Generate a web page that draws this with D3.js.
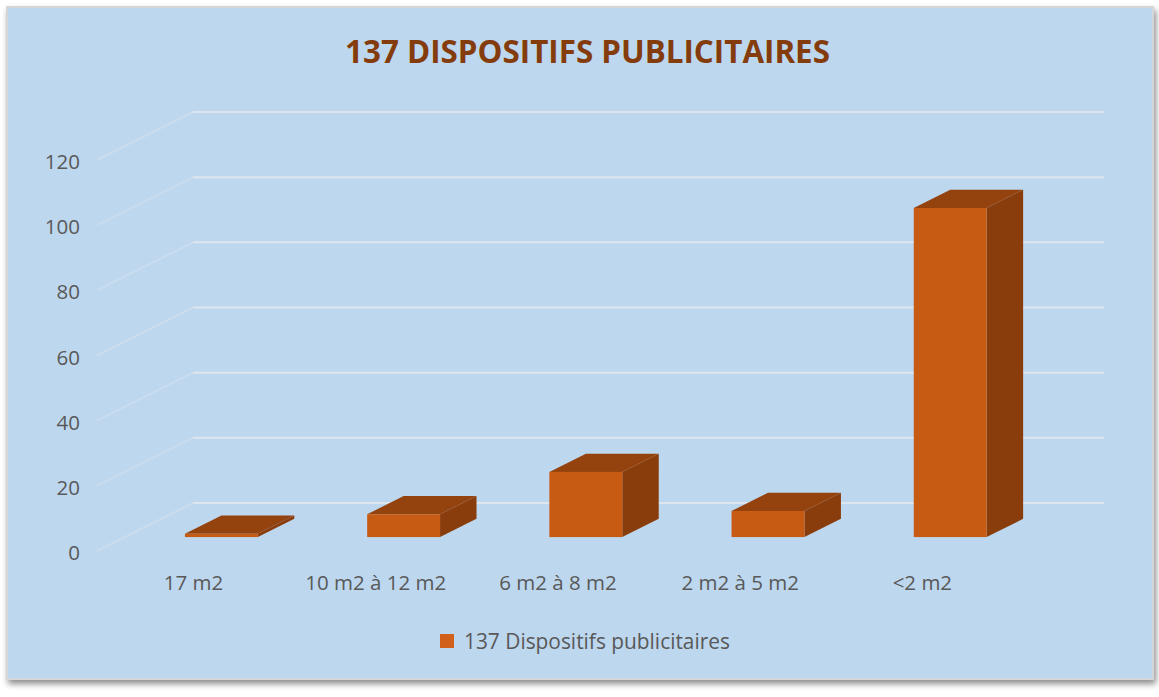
<!DOCTYPE html>
<html><head><meta charset="utf-8">
<script src="https://cdn.jsdelivr.net/npm/d3@7"></script>
<style>html,body{margin:0;padding:0;background:#fff;}svg{display:block;}</style>
</head><body>
<svg id="c" width="1159" height="697"></svg>
<script>
const categories = ["17 m2", "10 m2 à 12 m2", "6 m2 à 8 m2", "2 m2 à 5 m2", "<2 m2"];
const values = [1, 7, 20, 8, 101];
const yTicks = [0, 20, 40, 60, 80, 100, 120];
const titleText = "137 DISPOSITIFS PUBLICITAIRES";
const seriesName = "137 Dispositifs publicitaires";

const svg = d3.select("#c");
const defs = svg.append("defs");
const f = defs.append("filter").attr("id","sh").attr("x","-5%").attr("y","-5%").attr("width","110%").attr("height","112%");
f.append("feGaussianBlur").attr("in","SourceAlpha").attr("stdDeviation",3);
f.append("feOffset").attr("dx",2).attr("dy",4).attr("result","b");
f.append("feComponentTransfer").append("feFuncA").attr("type","linear").attr("slope",0.45);
const m = f.append("feMerge"); m.append("feMergeNode"); m.append("feMergeNode").attr("in","SourceGraphic");

// frame
svg.append("rect").attr("x",7).attr("y",7).attr("width",1146).attr("height",672)
  .attr("fill","#BDD7EE").attr("stroke","#D4D6D8").attr("stroke-width",2).attr("filter","url(#sh)");

const wallL = 193, wallR = 1104;
const depthX = 96, depthY = 48;
const y = d3.scaleLinear().domain([0,120]).range([503,112]);
const x = d3.scaleBand().domain(categories).range([wallL, wallR]).paddingInner(0.6).paddingOuter(0.3).align(0.55);
const P = (xb, v, d) => [xb - d*depthX, y(v) + d*depthY];

// gridlines
const g = svg.append("g");
yTicks.forEach(t => {
  g.append("line").attr("x1",wallL).attr("x2",wallR).attr("y1",y(t)).attr("y2",y(t))
    .attr("stroke","#E6EAEE").attr("stroke-width",2).attr("opacity",0.8);
  const a = P(wallL,t,0), b = P(wallL,t,1);
  g.append("line").attr("x1",a[0]).attr("y1",a[1]).attr("x2",b[0]).attr("y2",b[1])
    .attr("stroke","#E6EAEE").attr("stroke-width",2).attr("opacity",0.3);
});

// y labels
svg.append("g").selectAll("text").data(yTicks).join("text")
  .attr("x", d => P(wallL,d,1)[0] - 17).attr("y", d => P(wallL,d,1)[1] + 1)
  .attr("text-anchor","end").attr("dominant-baseline","central")
  .attr("font-family","'Open Sans', sans-serif").attr("font-size",20.5).attr("fill","#595959")
  .text(d => d);

// bars
const dF = 0.71, dB = 0.33;
const bars = svg.append("g");
categories.forEach((c,i) => {
  const v = values[i];
  const x0 = x(c), x1 = x(c) + x.bandwidth();
  const pts = a => a.map(p => p.join(",")).join(" ");
  bars.append("polygon").attr("points", pts([P(x1,0,dF),P(x1,0,dB),P(x1,v,dB),P(x1,v,dF)])).attr("fill","#8A3D0C");
  bars.append("polygon").attr("points", pts([P(x0,v,dF),P(x1,v,dF),P(x1,v,dB),P(x0,v,dB)])).attr("fill","#94430F");
  const a = P(x0,v,dF), b = P(x1,0,dF);
  bars.append("rect").attr("x",a[0]).attr("y",a[1]).attr("width",b[0]-a[0]).attr("height",Math.max(0,b[1]-a[1]))
    .attr("fill","#C85B14");
});

// category labels
svg.append("g").selectAll("text").data(categories).join("text")
  .attr("x", d => P(x(d)+x.bandwidth()/2,0,1)[0]).attr("y", d => P(0,0,1)[1] + 31)
  .attr("text-anchor","middle").attr("dominant-baseline","central")
  .attr("font-family","'Open Sans', sans-serif").attr("font-size",20.5).attr("fill","#595959")
  .text(d => d);

// title
const t = svg.append("text").attr("x",587.5).attr("y",50).attr("text-anchor","middle")
  .attr("dominant-baseline","central").attr("font-family","'Open Sans', sans-serif")
  .attr("font-weight","bold").attr("font-size",30).attr("fill","#843C0C").text(titleText);
const w = t.node().getComputedTextLength();
t.attr("font-size", 30*485/w);

// legend
const lg = svg.append("g");
lg.append("rect").attr("x",440).attr("y",634).attr("width",14).attr("height",14).attr("fill","#D0601A");
const lt = lg.append("text").attr("x",464).attr("y",641).attr("dominant-baseline","central")
  .attr("font-family","'Open Sans', sans-serif").attr("font-size",20).attr("fill","#595959").text(seriesName);
const lw = lt.node().getComputedTextLength();
lt.attr("font-size", Math.min(22, 20*266/lw));
</script>
</body></html>
